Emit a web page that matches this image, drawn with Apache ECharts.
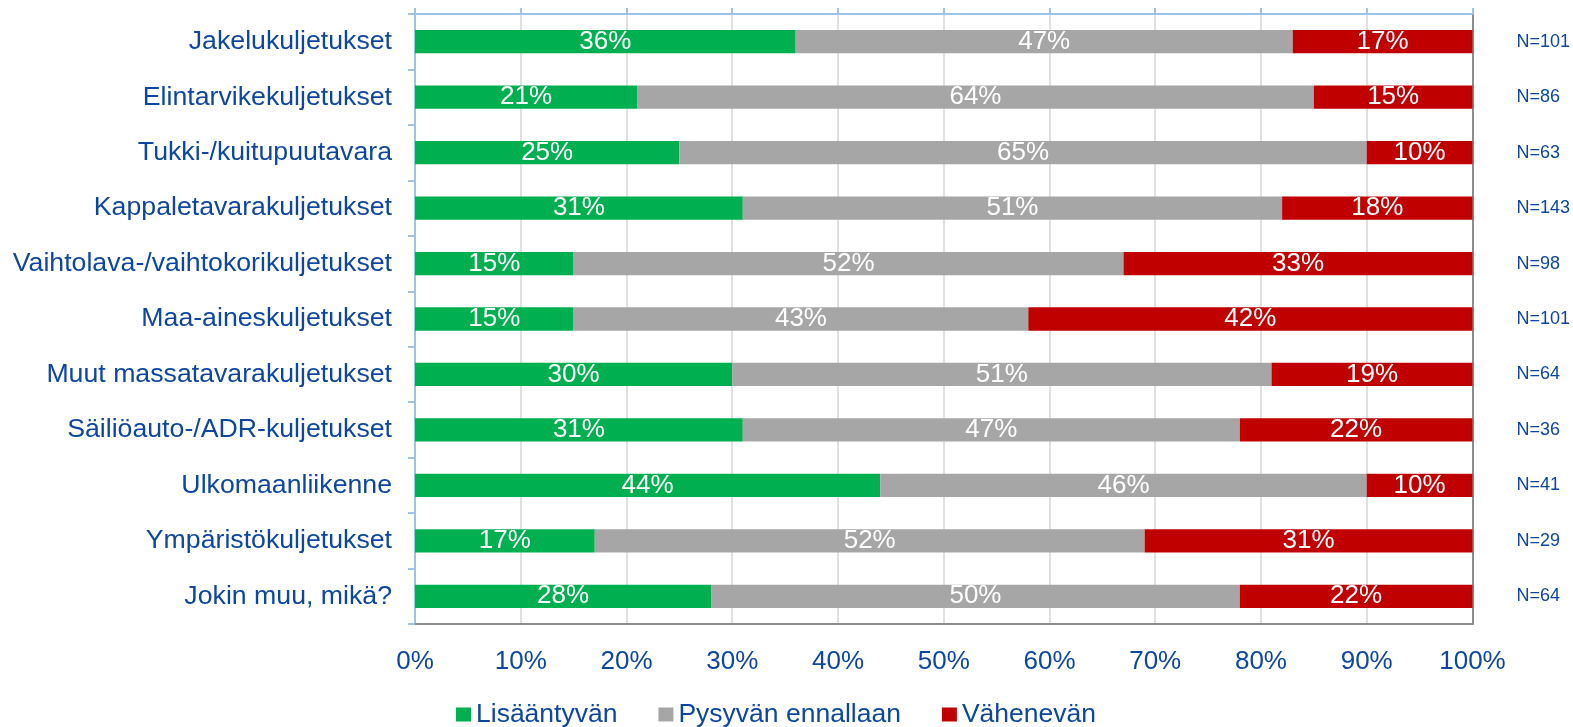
<!DOCTYPE html>
<html>
<head>
<meta charset="utf-8">
<script src="https://cdn.jsdelivr.net/npm/echarts@6/dist/echarts.min.js"></script>
<style>
html, body { margin: 0; padding: 0; background: #fff; }
#main { width: 1573px; height: 727px; }
</style>
</head>
<body>
<div id="main"></div>
<script>
var categories = [
  "Jakelukuljetukset",
  "Elintarvikekuljetukset",
  "Tukki-/kuitupuutavara",
  "Kappaletavarakuljetukset",
  "Vaihtolava-/vaihtokorikuljetukset",
  "Maa-aineskuljetukset",
  "Muut massatavarakuljetukset",
  "Säiliöauto-/ADR-kuljetukset",
  "Ulkomaanliikenne",
  "Ympäristökuljetukset",
  "Jokin muu, mikä?"
];
var nLabels = ["N=101", "N=86", "N=63", "N=143", "N=98", "N=101", "N=64", "N=36", "N=41", "N=29", "N=64"];
var lisaantyvan = [36, 21, 25, 31, 15, 15, 30, 31, 44, 17, 28];
var pysyvan = [47, 64, 65, 51, 52, 43, 51, 47, 46, 52, 50];
var vahenevan = [17, 15, 10, 18, 33, 42, 19, 22, 10, 31, 22];

var blue = "#0D47A1";
var font = "Liberation Sans, Arial, sans-serif";

function makeSeries(name, data, color) {
  return {
    name: name,
    type: "bar",
    stack: "total",
    barWidth: "42%",
    data: data,
    itemStyle: { color: color },
    label: {
      show: true,
      position: "inside",
      color: "#fff",
      fontSize: 26,
      fontFamily: font,
      formatter: "{c}%"
    }
  };
}

var myChart = echarts.init(document.getElementById("main"));
var option = {
  animation: false,
  textStyle: { fontFamily: font },
  grid: { left: 415, right: 100, top: 14, bottom: 103 },
  legend: {
    top: 696,
    left: 451,
    itemWidth: 15,
    itemHeight: 14,
    itemGap: 41,
    icon: "rect",
    textStyle: { color: blue, fontSize: 26.5, fontFamily: font },
    data: ["Lisääntyvän", "Pysyvän ennallaan", "Vähenevän"]
  },
  xAxis: [
    {
      type: "value",
      min: 0,
      max: 100,
      interval: 10,
      axisLine: { show: true, lineStyle: { color: "#8C8C8C", width: 2 } },
      axisTick: { show: false },
      axisLabel: { color: blue, fontSize: 26, margin: 25, formatter: "{value}%" },
      splitLine: { show: true, showMinLine: false, showMaxLine: false, lineStyle: { color: "#E0E0E0", width: 2 } }
    },
    {
      type: "value",
      position: "top",
      min: 0,
      max: 100,
      interval: 10,
      axisLine: { show: true, lineStyle: { color: "#9DC3E6", width: 2 } },
      axisTick: { show: true, length: 6, lineStyle: { color: "#9DC3E6", width: 2 } },
      axisLabel: { show: false },
      splitLine: { show: false }
    }
  ],
  yAxis: [
    {
      type: "category",
      inverse: true,
      data: categories,
      axisLine: { show: true, onZero: false, lineStyle: { color: "#9DC3E6", width: 2 } },
      axisTick: { show: true, length: 7, lineStyle: { color: "#9DC3E6", width: 2 } },
      axisLabel: { color: blue, fontSize: 26.7, margin: 23 }
    },
    {
      type: "category",
      inverse: true,
      position: "right",
      data: nLabels,
      axisLine: { show: true, onZero: false, lineStyle: { color: "#8C8C8C", width: 2 } },
      axisTick: { show: false },
      axisLabel: { color: blue, fontSize: 18, margin: 44 }
    }
  ],
  series: [
    makeSeries("Lisääntyvän", lisaantyvan, "#00B050"),
    makeSeries("Pysyvän ennallaan", pysyvan, "#A6A6A6"),
    makeSeries("Vähenevän", vahenevan, "#C00000")
  ]
};
myChart.setOption(option);
</script>
</body>
</html>
